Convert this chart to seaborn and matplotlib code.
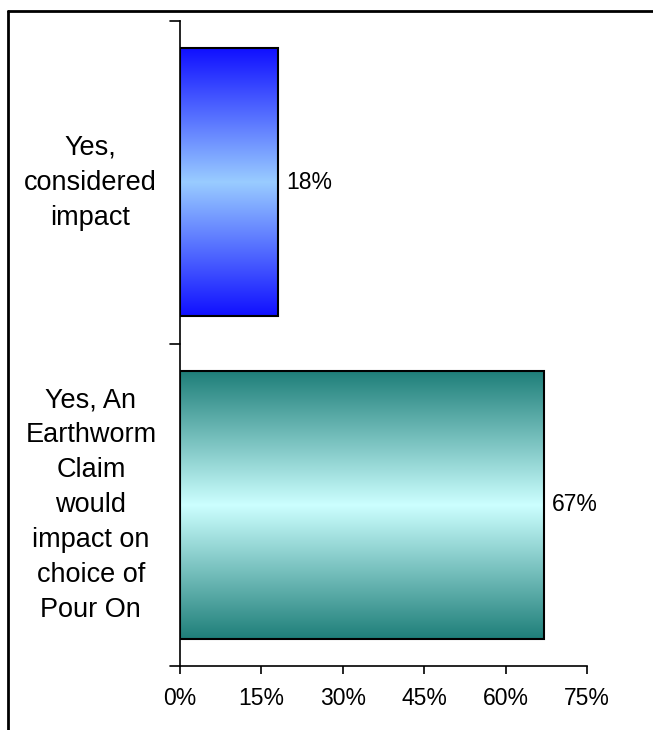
import numpy as np
import pandas as pd
import matplotlib
matplotlib.use("Agg")
import matplotlib.pyplot as plt
import matplotlib.transforms as mtransforms
import seaborn as sns
from matplotlib.colors import LinearSegmentedColormap
from matplotlib.lines import Line2D

categories = ["Yes,\nconsidered\nimpact",
              "Yes, An\nEarthworm\nClaim\nwould\nimpact on\nchoice of\nPour On"]
values = [18, 67]
x_ticks = [0, 15, 30, 45, 60, 75]
edge_colors = ["#1010FF", "#1F7F7A"]
mid_colors = ["#99CCFF", "#CCFFFF"]

sns.set_theme(style="white")
plt.rcParams["font.family"] = ["Liberation Sans", "DejaVu Sans"]
plt.rcParams["text.color"] = "black"
plt.rcParams["xtick.color"] = "black"
plt.rcParams["ytick.color"] = "black"

df = pd.DataFrame({"label": categories, "value": values})

fig = plt.figure(figsize=(6.53, 7.30), dpi=100)
ax = fig.add_axes([180 / 653, 64 / 730, 407 / 653, 645 / 730])

sns.barplot(data=df, x="value", y="label", orient="h", ax=ax,
            color="white", width=0.83, edgecolor="black", linewidth=1.5,
            zorder=3)

# vertical gradient fill inside each bar, plus value labels
for patch, val, c_edge, c_mid in zip(ax.patches, values, edge_colors, mid_colors):
    x0, y0 = patch.get_x(), patch.get_y()
    w, h = patch.get_width(), patch.get_height()
    cmap = LinearSegmentedColormap.from_list("g", [c_edge, c_mid, c_edge])
    grad = np.linspace(0, 1, 256).reshape(-1, 1)
    im = ax.imshow(grad, cmap=cmap, aspect="auto",
                   extent=(x0, x0 + w, y0 + h, y0), zorder=2,
                   interpolation="bicubic")
    im.set_clip_path(patch)
    patch.set_facecolor("none")
    ax.text(x0 + w + 1.6, y0 + h / 2, f"{val}%",
            va="center", ha="left", fontsize=16.5, color="black")

ax.set_xlim(0, 75)
ax.set_ylim(1.5, -0.5)

for s in ["top", "right"]:
    ax.spines[s].set_visible(False)
for s in ["left", "bottom"]:
    ax.spines[s].set_color("black")
    ax.spines[s].set_linewidth(1.2)

ax.set_xticks(x_ticks)
ax.set_xticklabels([f"{t}%" for t in x_ticks], fontsize=16.5, color="black")
ax.tick_params(axis="x", direction="out", length=6, width=1.2, color="black",
               bottom=True, pad=9)

# category labels with separators between categories
ax.set_yticks([0, 1])
ax.set_yticklabels(categories, fontsize=19.5, multialignment="center",
                   linespacing=1.45, color="black")
ax.tick_params(axis="y", length=0, pad=17)
shift = mtransforms.ScaledTranslation(0, 7 / 100, fig.dpi_scale_trans)
for lbl in ax.get_yticklabels():
    lbl.set_transform(lbl.get_transform() + shift)
for yb in [-0.5, 0.5, 1.5]:
    ax.plot([-0.025, 0], [yb, yb], transform=ax.get_yaxis_transform(),
            color="black", lw=1.2, clip_on=False)

ax.set_xlabel("")
ax.set_ylabel("")

# chart frame
fig.add_artist(Line2D([8 / 653, 1.0], [1 - 11 / 730, 1 - 11 / 730],
                      transform=fig.transFigure, color="black", lw=2))
fig.add_artist(Line2D([8 / 653, 8 / 653], [0, 1 - 11 / 730],
                      transform=fig.transFigure, color="black", lw=2))

fig.savefig("out.png", dpi=100)
